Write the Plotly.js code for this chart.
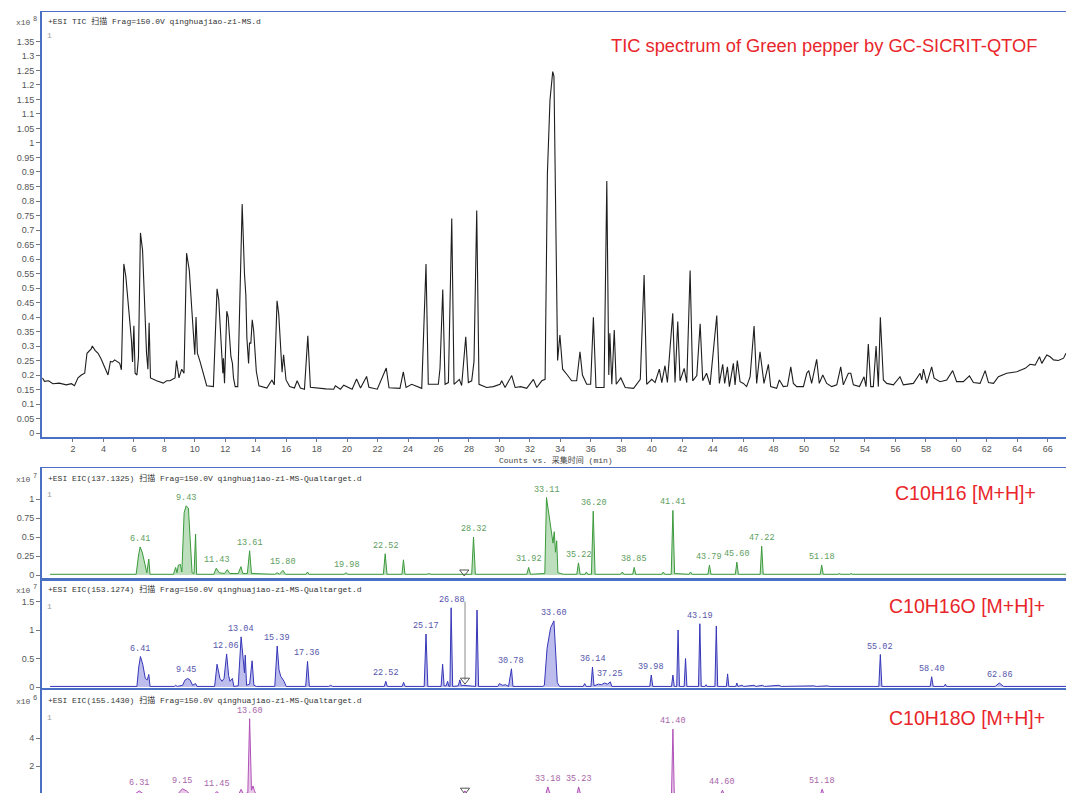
<!DOCTYPE html>
<html><head><meta charset="utf-8">
<script src="https://cdn.plot.ly/plotly-3.0.1.min.js"></script>
<style>html,body{margin:0;padding:0;background:#fff;}#chart{width:1066px;height:793px;}</style>
</head><body><div id="chart"></div>
<script>
// ---------- TIC (x10^8 counts) ----------
const ticTime = [0.00,0.13,0.40,0.68,1.10,1.56,1.90,2.10,2.33,2.55,2.77,2.92,3.20,3.27,3.45,3.65,3.85,3.98,4.15,4.30,4.46,4.60,4.74,4.90,5.07,5.18,5.34,5.47,5.65,5.84,5.91,6.00,6.08,6.20,6.30,6.43,6.57,6.70,6.83,6.92,7.00,7.09,7.49,7.93,8.15,8.37,8.70,8.80,8.96,9.14,9.29,9.46,9.64,9.79,9.95,10.00,10.08,10.17,10.34,10.56,10.65,10.78,11.22,11.33,11.46,11.57,11.75,11.84,11.88,11.95,12.10,12.19,12.37,12.47,12.54,12.65,12.82,13.11,13.26,13.35,13.42,13.53,13.59,13.68,13.77,13.86,14.04,14.21,14.73,15.06,15.22,15.40,15.51,15.62,15.73,15.83,15.99,16.23,16.54,16.72,16.93,17.20,17.42,17.59,18.03,18.60,19.12,19.23,19.56,19.78,20.33,20.62,20.88,21.28,21.43,21.98,22.57,22.75,23.47,23.69,23.87,24.24,24.90,25.18,25.33,25.99,26.10,26.28,26.43,26.65,26.87,27.02,27.37,27.52,27.79,27.96,28.18,28.33,28.51,28.66,29.16,29.60,30.04,30.15,30.37,30.81,31.03,31.40,31.79,32.23,32.45,32.78,33.00,33.15,33.32,33.50,33.58,33.72,33.82,33.97,34.15,34.46,34.74,35.07,35.29,35.45,35.73,35.99,36.17,36.34,36.87,37.05,37.18,37.25,37.38,37.54,37.67,37.97,38.26,38.81,39.25,39.50,39.67,40.00,40.22,40.50,40.66,40.87,41.03,41.38,41.53,41.71,41.86,42.13,42.30,42.52,42.69,42.96,43.18,43.35,43.60,43.83,44.05,44.27,44.44,44.66,44.79,44.97,45.10,45.25,45.36,45.47,45.62,45.80,46.02,46.23,46.46,46.72,46.89,47.11,47.22,47.37,47.66,47.81,48.20,48.38,48.64,48.91,49.13,49.30,49.52,49.96,50.18,50.31,50.50,50.83,51.00,51.23,51.49,51.82,52.15,52.41,52.58,52.91,53.07,53.24,53.64,53.94,54.07,54.22,54.38,54.55,54.73,54.88,55.01,55.21,55.43,55.87,56.30,56.52,57.18,57.62,57.73,57.84,58.06,58.38,58.54,58.93,59.37,59.76,60.02,60.46,60.86,61.12,61.56,61.89,62.11,62.44,62.76,63.31,63.97,64.52,64.84,65.17,65.46,65.61,65.94,66.16,66.38,66.70,67.04,67.20];
const ticCounts = [0.190,0.178,0.180,0.170,0.172,0.166,0.170,0.163,0.190,0.200,0.206,0.275,0.290,0.300,0.285,0.275,0.255,0.240,0.220,0.200,0.247,0.245,0.252,0.245,0.240,0.218,0.583,0.540,0.430,0.320,0.245,0.370,0.206,0.200,0.260,0.690,0.630,0.450,0.275,0.220,0.380,0.190,0.180,0.172,0.180,0.180,0.190,0.250,0.190,0.220,0.206,0.620,0.560,0.436,0.300,0.270,0.400,0.275,0.247,0.206,0.190,0.163,0.160,0.320,0.497,0.460,0.275,0.206,0.258,0.172,0.420,0.400,0.264,0.240,0.190,0.160,0.160,0.790,0.550,0.476,0.327,0.240,0.310,0.310,0.390,0.355,0.212,0.163,0.155,0.183,0.166,0.456,0.410,0.300,0.210,0.270,0.183,0.160,0.155,0.180,0.155,0.151,0.335,0.158,0.155,0.152,0.151,0.163,0.151,0.165,0.151,0.186,0.155,0.195,0.158,0.151,0.224,0.156,0.154,0.211,0.157,0.168,0.154,0.583,0.168,0.168,0.223,0.495,0.168,0.174,0.740,0.168,0.185,0.164,0.332,0.174,0.180,0.246,0.767,0.168,0.157,0.160,0.168,0.180,0.157,0.198,0.157,0.160,0.154,0.185,0.157,0.180,0.185,0.895,1.148,1.246,1.230,0.666,0.250,0.338,0.220,0.200,0.180,0.180,0.280,0.200,0.168,0.168,0.399,0.157,0.157,0.869,0.200,0.344,0.168,0.355,0.168,0.190,0.157,0.154,0.185,0.545,0.168,0.185,0.174,0.220,0.174,0.232,0.174,0.413,0.174,0.384,0.180,0.223,0.174,0.560,0.180,0.198,0.377,0.180,0.206,0.166,0.275,0.405,0.171,0.237,0.171,0.228,0.160,0.200,0.240,0.166,0.250,0.177,0.171,0.160,0.194,0.369,0.171,0.280,0.240,0.171,0.237,0.160,0.154,0.183,0.160,0.162,0.228,0.171,0.160,0.160,0.206,0.215,0.171,0.254,0.171,0.200,0.171,0.160,0.166,0.228,0.166,0.206,0.206,0.166,0.160,0.194,0.160,0.307,0.160,0.160,0.300,0.160,0.399,0.183,0.171,0.166,0.194,0.166,0.171,0.206,0.183,0.220,0.171,0.228,0.189,0.177,0.183,0.215,0.177,0.177,0.197,0.174,0.171,0.215,0.174,0.171,0.194,0.206,0.211,0.223,0.237,0.234,0.263,0.240,0.269,0.263,0.252,0.250,0.258,0.275];
const ticYTicks = [0,0.05,0.1,0.15,0.2,0.25,0.3,0.35,0.4,0.45,0.5,0.55,0.6,0.65,0.7,0.75,0.8,0.85,0.9,0.95,1,1.05,1.1,1.15,1.2,1.25,1.3,1.35];
const timeTicks = [2,4,6,8,10,12,14,16,18,20,22,24,26,28,30,32,34,36,38,40,42,44,46,48,50,52,54,56,58,60,62,64,66];

// ---------- EIC 137.1325 (C10H16, x10^7) ----------
const c16Time = [0.5,6.15,6.3,6.41,6.55,6.72,6.85,6.98,7.06,8.6,8.74,8.83,8.92,9.05,9.15,9.3,9.43,9.58,9.72,9.82,9.95,10.05,10.12,11.25,11.41,11.6,11.95,12.13,12.3,12.85,13.03,13.15,13.45,13.6,13.72,15.25,15.41,15.55,15.79,15.95,17.3,17.4,17.5,19.8,19.93,20.05,22.38,22.5,22.62,23.6,23.7,23.8,25.25,25.36,25.5,28.18,28.3,28.42,31.8,31.92,32.04,32.98,33.09,33.25,33.4,33.52,33.6,33.68,33.76,33.84,34.03,34.2,35.08,35.19,35.3,35.62,35.71,35.8,36.04,36.16,36.28,37.95,38.07,38.17,38.75,38.85,38.95,40.66,40.76,40.86,41.28,41.39,41.5,42.45,42.55,42.65,43.69,43.79,43.89,45.49,45.59,45.69,47.12,47.22,47.32,51.06,51.16,51.26,52.22,52.32,52.42,53.0,53.1,53.2,67.7];
const c16Counts = [0.01,0.01,0.25,0.37,0.3,0.12,0.03,0.21,0.01,0.01,0.1,0.03,0.13,0.14,0.04,0.82,0.91,0.88,0.45,0.03,0.02,0.54,0.01,0.01,0.09,0.03,0.02,0.07,0.02,0.02,0.11,0.02,0.02,0.32,0.02,0.01,0.03,0.01,0.06,0.01,0.01,0.04,0.01,0.01,0.03,0.01,0.01,0.28,0.01,0.01,0.2,0.01,0.01,0.02,0.01,0.01,0.5,0.01,0.01,0.1,0.01,0.02,1.02,0.8,0.55,0.42,0.57,0.3,0.45,0.03,0.02,0.01,0.01,0.16,0.01,0.01,0.04,0.01,0.01,0.84,0.01,0.01,0.04,0.01,0.01,0.1,0.01,0.01,0.04,0.01,0.01,0.85,0.02,0.01,0.04,0.01,0.01,0.13,0.01,0.01,0.17,0.01,0.01,0.38,0.01,0.01,0.13,0.01,0.01,0.02,0.01,0.01,0.02,0.01,0.01];
const c16Labels = ["6.41","9.43","11.43","13.61","15.80","19.98","22.52","28.32","31.92","33.11","35.22","36.20","38.85","41.41","43.79","45.60","47.22","51.18"];
const c16YTicks = [0,0.25,0.5,0.75,1];

// ---------- EIC 153.1274 (C10H16O, x10^7) ----------
const c16oTime = [0.5,6.2,6.32,6.43,6.58,6.75,6.88,6.98,7.06,8.65,8.74,8.85,9.2,9.35,9.53,9.7,9.85,10.05,10.15,11.3,11.46,11.65,11.79,11.92,12.09,12.22,12.31,12.47,12.56,12.85,13.04,13.2,13.26,13.31,13.4,13.6,13.76,13.88,14.05,15.25,15.41,15.53,15.64,15.86,16.0,17.28,17.4,17.52,18.8,18.92,19.05,22.44,22.54,22.64,23.61,23.71,23.81,25.06,25.18,25.3,26.17,26.27,26.37,26.5,26.6,26.68,26.75,26.83,26.93,27.3,27.4,27.5,27.6,28.43,28.53,28.63,29.9,30.0,30.2,30.4,30.6,30.79,30.89,32.85,32.95,33.13,33.36,33.58,33.69,33.8,33.95,35.5,35.6,35.7,36.01,36.11,36.21,36.5,36.7,36.9,37.1,37.2,37.28,37.38,39.87,39.97,40.07,41.3,41.39,41.48,41.64,41.73,41.82,42.13,42.22,42.31,43.07,43.16,43.25,43.5,43.57,43.64,44.15,44.24,44.33,44.9,44.98,45.06,45.52,45.59,45.66,45.92,46.05,46.71,46.85,47.27,47.4,48.35,48.5,50.64,50.8,51.54,51.7,54.91,55.01,55.11,58.28,58.38,58.48,59.2,59.28,59.36,62.55,62.82,63.1,67.7];
const c16oCounts = [0.01,0.01,0.35,0.535,0.4,0.15,0.125,0.22,0.01,0.01,0.03,0.01,0.03,0.12,0.15,0.12,0.03,0.06,0.01,0.01,0.4,0.15,0.1,0.15,0.58,0.2,0.1,0.15,0.01,0.02,0.88,0.4,0.25,0.56,0.03,0.05,0.46,0.03,0.01,0.01,0.72,0.3,0.19,0.1,0.01,0.01,0.45,0.01,0.01,0.03,0.01,0.01,0.1,0.01,0.01,0.08,0.01,0.01,0.93,0.01,0.01,0.4,0.02,0.02,0.1,0.01,0.01,1.39,0.01,0.02,0.125,0.02,0.03,0.01,1.35,0.01,0.01,0.06,0.03,0.04,0.01,0.32,0.01,0.01,0.03,0.68,1.04,1.16,0.68,0.08,0.01,0.01,0.06,0.01,0.01,0.35,0.02,0.05,0.04,0.07,0.05,0.08,0.09,0.01,0.01,0.21,0.01,0.01,0.21,0.01,0.01,1.0,0.01,0.01,0.5,0.01,0.01,1.11,0.01,0.01,0.04,0.01,0.01,1.07,0.01,0.01,0.23,0.01,0.01,0.07,0.01,0.03,0.01,0.03,0.01,0.03,0.01,0.03,0.01,0.02,0.01,0.02,0.01,0.01,0.57,0.01,0.01,0.18,0.01,0.01,0.05,0.01,0.01,0.07,0.01,0.01];
const c16oLabels = ["6.41","9.45","12.06","13.04","15.39","17.36","22.52","25.17","26.88","30.78","33.60","36.14","37.25","39.98","43.19","55.02","58.40","62.86"];
const c16oYTicks = [0,0.5,1,1.5];

// ---------- EIC 155.1430 (C10H18O, x10^6) ----------
const c18oTime = [0.5,6.1,6.35,6.6,8.9,9.19,9.45,9.65,11.3,11.45,11.6,12.9,13.04,13.18,13.48,13.6,13.72,13.82,13.9,14.0,27.6,27.74,27.85,33.05,33.18,33.32,35.1,35.2,35.32,41.3,41.39,41.48,44.54,44.64,44.74,51.09,51.19,51.29,67.7];
const c18oCounts = [0.05,0.05,0.25,0.05,0.05,0.4,0.25,0.05,0.05,0.2,0.05,0.05,0.36,0.05,0.1,5.37,0.3,0.6,0.3,0.05,0.05,0.25,0.05,0.05,0.53,0.05,0.05,0.53,0.05,0.05,4.63,0.05,0.05,0.3,0.05,0.05,0.37,0.05,0.05];
const c18oLabels = ["6.31","9.15","11.45","13.60","27.20","33.18","35.23","41.40","44.60","51.18"];
const c18oYTicks = [0,2,4];

// exponent of each panel's count scale
const panelExponents = ["8","7","7","6"];

// cursor (open triangle) positions in each EIC panel
const cursorTime = [27.69, 27.74, 27.74];
const cursorLevel = [0.04, 0.12, 0.3];
const cursorTop = 1.5;

// ---------- styling / layout helpers ----------
const W = 1066, H = 793, L = 42;
const px = x => (x - L) / (W - L);
const py = y => 1 - y / H;
const MONO = "Liberation Mono, 'Noto Sans CJK SC', monospace";
const SANS = "Liberation Sans, Arial, sans-serif";
const FRAME = '#4a70c4';
const XRANGE = [-0.033, 67.2];

const green = {line:'#3c9a3c', fill:'rgba(90,175,90,0.40)', text:'#5e9e5e'};
const blue = {line:'#3636b8', fill:'rgba(90,90,210,0.40)', text:'#5555aa'};
const purple = {line:'#b050b8', fill:'rgba(190,100,195,0.35)', text:'#a865a8'};

const traces = [
  {x: ticTime, y: ticCounts, xaxis:'x', yaxis:'y', mode:'lines', line:{color:'#1e1e1e', width:1.1}, hoverinfo:'skip'},
  {x: c16Time, y: c16Counts, xaxis:'x2', yaxis:'y2', mode:'lines', fill:'tozeroy', fillcolor:green.fill, line:{color:green.line, width:1}, hoverinfo:'skip'},
  {x: c16oTime, y: c16oCounts, xaxis:'x3', yaxis:'y3', mode:'lines', fill:'tozeroy', fillcolor:blue.fill, line:{color:blue.line, width:1}, hoverinfo:'skip'},
  {x: c18oTime, y: c18oCounts, xaxis:'x4', yaxis:'y4', mode:'lines', fill:'tozeroy', fillcolor:purple.fill, line:{color:purple.line, width:1}, hoverinfo:'skip'},
  {x: [cursorTime[1], cursorTime[1]], y: [cursorLevel[1], cursorTop], xaxis:'x3', yaxis:'y3', mode:'lines', line:{color:'#8a8a8a', width:1}, hoverinfo:'skip'},
];
['x2','x3','x4'].forEach((ax, i) => {
  traces.push({x:[cursorTime[i]], y:[cursorLevel[i]], xaxis:ax, yaxis:'y'+(i+2), mode:'markers',
    marker:{symbol:'triangle-down-open', size:8, color:'#555', line:{width:1}}, hoverinfo:'skip', cliponaxis:false});
});

function yAxis(domain, range, ticks) {
  return {domain, range, tickvals: ticks, ticks:'outside', ticklen:4, tickcolor:'#777', tickwidth:1,
    showline:true, linecolor:FRAME, linewidth:2, mirror:false, showgrid:false, zeroline:false,
    tickfont:{family:SANS, size:9, color:'#555'}, fixedrange:true};
}
function xAxis(anchor, showLabels) {
  return {domain:[0,1], range:XRANGE, anchor, showline:true, linecolor:FRAME, linewidth:1.5, mirror:true,
    showgrid:false, zeroline:false, tickvals: showLabels ? timeTicks : [], ticks: showLabels ? 'outside' : '',
    ticklen:3, tickcolor:'#777', showticklabels: showLabels, tickfont:{family:SANS, size:9, color:'#555'}, fixedrange:true};
}

const annotations = [];
function addText(x, y, text, opts) {
  annotations.push(Object.assign({xref:'paper', yref:'paper', x:px(x), y:py(y), text, showarrow:false,
    xanchor:'left', yanchor:'middle', font:{family:MONO, size:8, color:'#333'}}, opts || {}));
}
// panel headers
const headerY = [21, 478, 589, 700];
addText(46, headerY[0], '+ESI TIC 扫描 Frag=150.0V qinghuajiao-z1-MS.d');
addText(46, headerY[1], '+ESI EIC(137.1325) 扫描 Frag=150.0V qinghuajiao-z1-MS-Qualtarget.d');
addText(46, headerY[2], '+ESI EIC(153.1274) 扫描 Frag=150.0V qinghuajiao-z1-MS-Qualtarget.d');
addText(46, headerY[3], '+ESI EIC(155.1430) 扫描 Frag=150.0V qinghuajiao-z1-MS-Qualtarget.d');
// exponents: "x10" plus raised digit
headerY.forEach((y, i) => {
  addText(14, y + 1, 'x10', {font:{family:MONO, size:8, color:'#555'}});
  addText(31, y - 2, panelExponents[i], {font:{family:MONO, size:7, color:'#555'}});
});
// small trace numbers
[36, 494, 606, 717].forEach(y => addText(45, y, '1', {font:{family:MONO, size:8, color:'#999'}}));
// axis title
addText(556, 460, 'Counts vs. 采集时间 (min)', {xanchor:'center', font:{family:MONO, size:8, color:'#444'}});
// red titles
addText(609, 46, 'TIC spectrum of Green pepper by GC-SICRIT-QTOF', {font:{family:SANS, size:18.3, color:'#e8262b'}});
addText(893, 493, 'C10H16 [M+H]+', {font:{family:SANS, size:19.5, color:'#e8262b'}});
addText(887, 606, 'C10H16O [M+H]+', {font:{family:SANS, size:19.5, color:'#e8262b'}});
addText(887, 718, 'C10H18O [M+H]+', {font:{family:SANS, size:19.5, color:'#e8262b'}});

// peak labels from data
function peakLabels(labels, times, counts, ax, color) {
  labels.forEach(lab => {
    const t = parseFloat(lab);
    let best = 0;
    times.forEach((tt, i) => { if (Math.abs(tt - t) <= 0.2 && counts[i] > best) best = counts[i]; });
    annotations.push({xref:ax, yref:'y' + ax.slice(1), x:t, y:best, text:lab, showarrow:false,
      xanchor:'center', yanchor:'bottom', yshift:1, font:{family:MONO, size:8.5, color}});
  });
}
peakLabels(c16Labels, c16Time, c16Counts, 'x2', green.text);
peakLabels(c16oLabels, c16oTime, c16oCounts, 'x3', blue.text);
peakLabels(c18oLabels, c18oTime, c18oCounts, 'x4', purple.text);

const layout = {
  width: W, height: H, margin:{l:L, r:0, t:0, b:0}, paper_bgcolor:'#fff', plot_bgcolor:'#fff',
  showlegend:false,
  xaxis: xAxis('y', true),
  yaxis: yAxis([py(437), py(12)], [-0.0138, 1.4517], ticYTicks),
  xaxis2: xAxis('y2', false),
  yaxis2: yAxis([py(578), py(468)], [-0.039, 1.408], c16YTicks),
  xaxis3: xAxis('y3', false),
  yaxis3: yAxis([py(688), py(581)], [-0.0175, 1.86], c16oYTicks),
  xaxis4: xAxis('y4', false),
  yaxis4: yAxis([0, py(690)], [0.1, 7.405], c18oYTicks),
  annotations
};
Plotly.newPlot('chart', traces, layout, {staticPlot:true, displayModeBar:false});
</script></body></html>
